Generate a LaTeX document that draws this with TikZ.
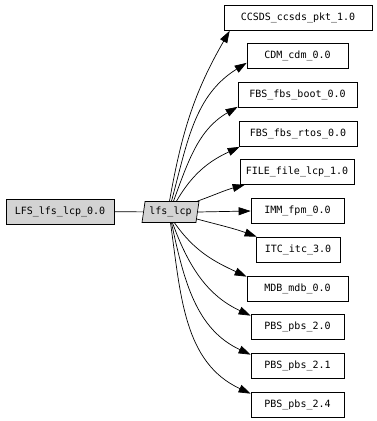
\documentclass[tikz,border=0pt]{standalone}
\usepackage{fontspec}
\setmonofont{DejaVu Sans Mono}
\usepackage{xcolor}
\definecolor{pkggray}{HTML}{D3D3D3}
\usetikzlibrary{arrows.meta, shapes.geometric}

\begin{document}
\begin{tikzpicture}[x=1pt, y=1pt, >={Triangle[length=12pt,width=8pt]}, line width=0.7pt,
    font=\ttfamily\fontsize{10}{12}\selectfont,
    pkg/.style={draw, rectangle, minimum height=25pt, inner sep=0pt},
    lib/.style={draw, fill=pkggray, trapezium, trapezium left angle=76, trapezium right angle=104,
        trapezium stretches, minimum width=57pt, minimum height=21pt, inner sep=0pt},
    dep/.style={->}]
                \useasboundingbox (0,0) rectangle (376,-421);
                \node[pkg, fill=pkggray, minimum width=108pt] (lfs) at (60,-211.5) {LFS\_lfs\_lcp\_0.0};
                \node[lib] (lcp) at (170.5,-212) {lfs\_lcp};
                \draw (lfs) -- (lcp);

                % packages used by lfs_lcp
                \node[pkg, minimum width=148pt] (ccsds) at (298,-18) {CCSDS\_ccsds\_pkt\_1.0};
                \node[pkg, minimum width=101pt] (cdm) at (297.5,-56) {CDM\_cdm\_0.0};
                \node[pkg, minimum width=119pt] (boot) at (297.5,-95) {FBS\_fbs\_boot\_0.0};
                \node[pkg, minimum width=118pt] (rtos) at (298,-134) {FBS\_fbs\_rtos\_0.0};
                \node[pkg, minimum width=114pt] (file) at (297,-172) {FILE\_file\_lcp\_1.0};
                \node[pkg, minimum width=93pt] (imm) at (297.5,-211) {IMM\_fpm\_0.0};
                \node[pkg, minimum width=84pt] (itc) at (298,-249.5) {ITC\_itc\_3.0};
                \node[pkg, minimum width=101pt] (mdb) at (297.5,-288.5) {MDB\_mdb\_0.0};
                \node[pkg, minimum width=93pt] (pbsa) at (297.5,-326.5) {PBS\_pbs\_2.0};
                \node[pkg, minimum width=93pt] (pbsb) at (297.5,-365.5) {PBS\_pbs\_2.1};
                \node[pkg, minimum width=93pt] (pbsc) at (297.5,-404.5) {PBS\_pbs\_2.4};

                \draw[dep] ([xshift=-1pt]lcp.north) to[out=80, in=240] ([xshift=6pt]ccsds.south west);
                \draw[dep] ([xshift=1pt]lcp.north) to[out=75, in=212] ([yshift=6pt]cdm.south west);
                \draw[dep] ([xshift=3pt]lcp.north) to[out=70, in=210] ([yshift=1pt]boot.south west);
                \draw[dep] ([xshift=6pt]lcp.north) to[out=60, in=205] ([xshift=1pt]rtos.south west);
                \draw[dep] ([xshift=-2pt]lcp.top right corner) to[out=20, in=195] ([xshift=5pt]file.south west);
                \draw[dep] (lcp.east) -- (imm.west);
                \draw[dep] ([yshift=4pt]lcp.bottom right corner) to[out=-15, in=160] ([xshift=1pt]itc.north west);
                \draw[dep] ([xshift=4pt]lcp.south) to[out=-55, in=155] ([yshift=-1pt]mdb.north west);
                \draw[dep] ([xshift=2pt]lcp.south) to[out=-70, in=155] ([yshift=-2pt]pbsa.north west);
                \draw[dep] ([xshift=1pt]lcp.south) to[out=-78, in=155] ([yshift=-2pt]pbsb.north west);
                \draw[dep] (lcp.south) to[out=-82, in=155] ([yshift=-2pt]pbsc.north west);
            \end{tikzpicture}
\end{document}
